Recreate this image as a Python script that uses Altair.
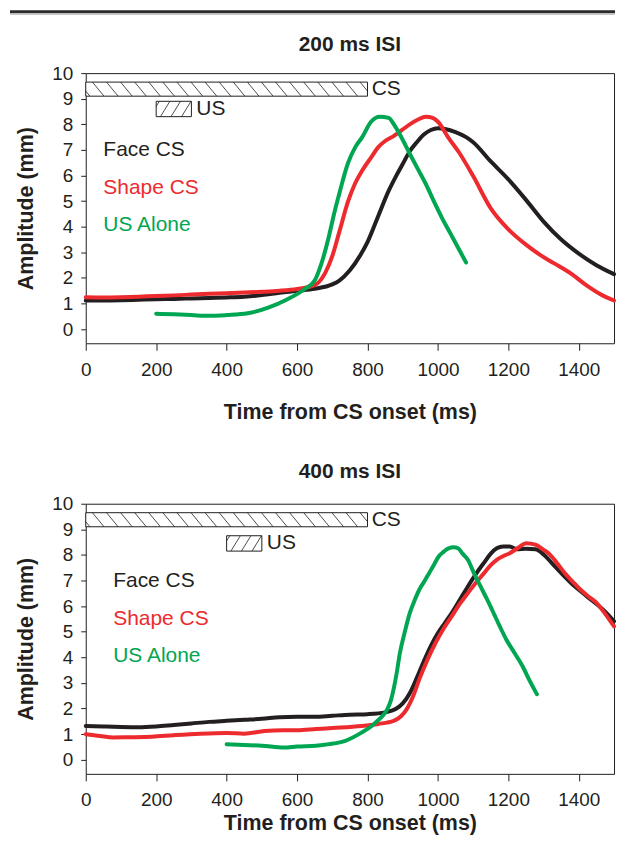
import altair as alt
import numpy as np
import pandas as pd

FONT = "Liberation Sans"
BLACK = "#231f20"
RED = "#ed2a2e"
GREEN = "#00a651"

SERIES = ["Face CS", "Shape CS", "US Alone"]
COLORS = [BLACK, RED, GREEN]

# ---------------- 200 ms ISI ----------------
face200_t = [0, 50, 100, 150, 200, 250, 300, 350, 400, 450, 500, 550, 600, 650, 700, 720, 750, 780,
             800, 830, 860, 880, 900, 920, 940, 960, 980, 1000, 1020, 1050, 1080, 1100, 1150, 1200,
             1250, 1300, 1350, 1400, 1450, 1500]
face200_v = [1.12, 1.12, 1.13, 1.15, 1.17, 1.18, 1.2, 1.22, 1.24, 1.27, 1.33, 1.42, 1.5, 1.58, 1.75,
             1.9, 2.3, 2.9, 3.4, 4.4, 5.4, 5.95, 6.45, 6.95, 7.3, 7.6, 7.78, 7.85, 7.82, 7.7, 7.5, 7.3,
             6.55, 5.85, 5.05, 4.2, 3.5, 2.95, 2.5, 2.15]
shape200_t = [0, 50, 100, 150, 200, 250, 300, 350, 400, 450, 500, 550, 600, 650, 680, 700, 720, 745,
              765, 785, 810, 830, 850, 875, 900, 920, 945, 965, 985, 1000, 1030, 1060, 1100, 1150,
              1200, 1250, 1290, 1330, 1380, 1420, 1470, 1500]
shape200_v = [1.25, 1.24, 1.25, 1.27, 1.3, 1.32, 1.35, 1.38, 1.4, 1.43, 1.46, 1.5, 1.57, 1.72, 2.2,
              2.85, 3.8, 5.0, 5.7, 6.2, 6.7, 7.1, 7.35, 7.55, 7.8, 8.0, 8.2, 8.3, 8.25, 8.1, 7.47,
              6.9, 5.98, 4.72, 3.9, 3.3, 2.9, 2.57, 2.15, 1.73, 1.3, 1.12]
us200_t = [200, 250, 300, 350, 400, 460, 520, 570, 620, 650, 670, 690, 705, 720, 745, 765, 785, 810,
           835, 860, 875, 892, 920, 945, 966, 990, 1011, 1035, 1057, 1080]
us200_v = [0.6, 0.58, 0.55, 0.52, 0.55, 0.62, 0.85, 1.15, 1.55, 1.9, 2.6, 3.6, 4.5, 5.3, 6.5, 7.1,
           7.5, 8.1, 8.3, 8.25, 8.0, 7.6, 6.85, 6.2, 5.66, 4.95, 4.36, 3.75, 3.19, 2.6]

# ---------------- 400 ms ISI ----------------
face400_t = [0, 50, 100, 150, 200, 250, 300, 350, 400, 450, 500, 550, 600, 650, 700, 750, 800, 850,
             880, 900, 920, 940, 960, 980, 1000, 1020, 1040, 1060, 1085, 1110, 1131, 1150, 1167, 1185,
             1204, 1225, 1250, 1277, 1300, 1332, 1378, 1423, 1469, 1500]
face400_v = [1.32, 1.3, 1.28, 1.27, 1.3, 1.36, 1.42, 1.48, 1.52, 1.56, 1.6, 1.66, 1.68, 1.68, 1.72,
             1.76, 1.78, 1.85, 1.98, 2.2, 2.6, 3.2, 3.85, 4.45, 4.95, 5.35, 5.75, 6.2, 6.77, 7.3,
             7.7, 8.05, 8.26, 8.33, 8.33, 8.22, 8.24, 8.22, 8.02, 7.55, 6.9, 6.38, 5.86, 5.41]
shape400_t = [0, 40, 78, 120, 188, 250, 325, 400, 450, 508, 560, 600, 654, 700, 783, 830, 874, 895,
              911, 930, 947, 970, 993, 1015, 1039, 1060, 1085, 1110, 1131, 1150, 1167, 1185, 1204,
              1230, 1250, 1277, 1300, 1314, 1337, 1360, 1383, 1405, 1430, 1451, 1475, 1500]
shape400_v = [1.0, 0.93, 0.87, 0.88, 0.9, 0.96, 1.02, 1.05, 1.02, 1.12, 1.15, 1.15, 1.2, 1.24, 1.32,
              1.4, 1.52, 1.7, 1.97, 2.5, 3.14, 3.9, 4.56, 5.1, 5.6, 6.05, 6.51, 6.95, 7.29, 7.6,
              7.81, 7.95, 8.07, 8.3, 8.46, 8.4, 8.2, 8.07, 7.7, 7.29, 6.95, 6.64, 6.35, 6.12, 5.7, 5.21]
us400_t = [400, 450, 500, 563, 600, 654, 691, 737, 783, 810, 828, 845, 856, 866, 874, 883, 892, 906,
           920, 933, 947, 962, 975, 990, 1002, 1016, 1030, 1045, 1057, 1070, 1085, 1102, 1121, 1140,
           1158, 1176, 1194, 1217, 1240, 1260, 1281]
us400_v = [0.61, 0.58, 0.55, 0.48, 0.52, 0.55, 0.61, 0.74, 1.06, 1.3, 1.52, 1.75, 1.97, 2.3, 2.75,
           3.4, 4.17, 5.0, 5.73, 6.2, 6.64, 6.98, 7.29, 7.65, 7.94, 8.12, 8.26, 8.3, 8.26, 8.05,
           7.81, 7.3, 6.77, 6.25, 5.73, 5.2, 4.7, 4.18, 3.66, 3.1, 2.56]

# stimulus bars: [start, end, low, high]
cs_bar = [0, 800, 9.1, 9.65]
us_bar_200 = [200, 300, 8.3, 8.9]
us_bar_400 = [400, 500, 8.15, 8.75]

legend_y = [7.0, 5.5, 4.05]
legend_x_200 = 50
legend_x_400 = 78

X_TICKS = [0, 200, 400, 600, 800, 1000, 1200, 1400]
Y_TICKS = list(range(0, 11))

W, H = 530, 271


def hatch(bar, spacing, run, slope):
    x0, x1, lo, hi = bar
    rows = []
    for xs in np.arange(x0 - run + spacing * 0.3, x1, spacing):
        if slope == "back":  # "\" top-left to bottom-right
            ya, yb = hi, lo
        else:  # "/" bottom-left to top-right
            ya, yb = lo, hi
        f = lambda x: ya + (yb - ya) * (x - xs) / run
        cax, cbx = max(xs, x0), min(xs + run, x1)
        if cbx - cax > 0.5:
            rows.append({"x": cax, "x2": cbx, "y": f(cax), "y2": f(cbx)})
    return pd.DataFrame(rows)


def panel(title, title_y, lines, us_bar, legend_x, title_pad, with_rule):
    xs = alt.Scale(domain=[0, 1500], nice=False, zero=False)
    ys = alt.Scale(domain=[-0.55, 10], nice=False, zero=False)
    cs = alt.Scale(domain=SERIES, range=COLORS)

    xax = alt.Axis(values=X_TICKS, title="Time from CS onset (ms)", tickSize=7, format="d",
                   labelPadding=10, titlePadding=title_pad, labelOverlap=False, labelFlush=False)
    yax = alt.Axis(values=Y_TICKS, title="Amplitude (mm)", tickSize=5, labelPadding=8,
                   titlePadding=14, labelOverlap=False, labelFlush=False, format="d")

    def X(f):
        return alt.X(f, scale=xs, axis=xax)

    def Y(f):
        return alt.Y(f, scale=ys, axis=yax)

    layers = []
    for name, (t, v) in zip(SERIES, lines):
        df = pd.DataFrame({"t": t, "v": v, "s": name})
        layers.append(
            alt.Chart(df).mark_line(strokeWidth=4, interpolate="monotone", strokeCap="round")
            .encode(x=X("t:Q"), y=Y("v:Q"),
                    color=alt.Color("s:N", scale=cs, legend=None))
        )

    bars = pd.DataFrame({"x": [cs_bar[0], us_bar[0]], "x2": [cs_bar[1], us_bar[1]],
                         "y": [cs_bar[2], us_bar[2]], "y2": [cs_bar[3], us_bar[3]]})
    layers.append(alt.Chart(bars).mark_rect(fill="white", stroke=BLACK, strokeWidth=1)
                  .encode(x=X("x:Q"), x2="x2:Q", y=Y("y:Q"), y2="y2:Q"))
    for df in (hatch(cs_bar, 40, 33, "back"), hatch(us_bar, 30, 27, "fwd")):
        layers.append(alt.Chart(df).mark_rule(color=BLACK, strokeWidth=0.8)
                      .encode(x=X("x:Q"), x2="x2:Q", y=Y("y:Q"), y2="y2:Q"))

    lab = pd.DataFrame({"x": [cs_bar[1] + 12, us_bar[1] + 14],
                        "y": [(cs_bar[2] + cs_bar[3]) / 2, (us_bar[2] + us_bar[3]) / 2],
                        "t": ["CS", "US"]})
    layers.append(alt.Chart(lab).mark_text(align="left", baseline="middle", font=FONT,
                                           fontSize=21, color=BLACK)
                  .encode(x=X("x:Q"), y=Y("y:Q"), text="t:N"))

    leg = pd.DataFrame({"x": [legend_x] * 3, "y": legend_y, "s": SERIES})
    layers.append(alt.Chart(leg).mark_text(align="left", baseline="middle", font=FONT,
                                           fontSize=21)
                  .encode(x=X("x:Q"), y=Y("y:Q"), text="s:N",
                          color=alt.Color("s:N", scale=cs, legend=None)))

    ttl = pd.DataFrame({"t": [title]})
    layers.append(alt.Chart(ttl).mark_text(align="center", baseline="middle", font=FONT,
                                           fontSize=21, fontWeight="bold", color=BLACK)
                  .encode(x=alt.value(W / 2), y=alt.value(title_y), text="t:N"))

    if with_rule:
        layers.append(alt.Chart(ttl).mark_rule(color="#2b2b2b", strokeWidth=3)
                      .encode(x=alt.value(-76), x2=alt.value(W + 1), y=alt.value(-61.5)))
        layers.append(alt.Chart(ttl).mark_rule(color="#b5b5b5", strokeWidth=1.5)
                      .encode(x=alt.value(-76), x2=alt.value(W + 1), y=alt.value(-59.2)))

    return alt.layer(*layers).properties(width=W, height=H)


top = panel("200 ms ISI", -28,
            [(face200_t, face200_v), (shape200_t, shape200_v), (us200_t, us200_v)],
            us_bar_200, legend_x_200, 22, True)
bottom = panel("400 ms ISI", -32,
               [(face400_t, face400_v), (shape400_t, shape400_v), (us400_t, us400_v)],
               us_bar_400, legend_x_400, 3, False)

chart = alt.vconcat(top, bottom, spacing=37).properties(padding=0).configure(
    font=FONT
).configure_view(
    stroke=BLACK, strokeWidth=1
).configure_axis(
    domain=False, grid=False, tickColor=BLACK, labelColor=BLACK, titleColor=BLACK,
    labelFont=FONT, labelFontSize=19, titleFont=FONT, titleFontSize=21.5,
    titleFontWeight="bold"
)

chart.save("out.html", embed_options={"renderer": "svg", "actions": False})
